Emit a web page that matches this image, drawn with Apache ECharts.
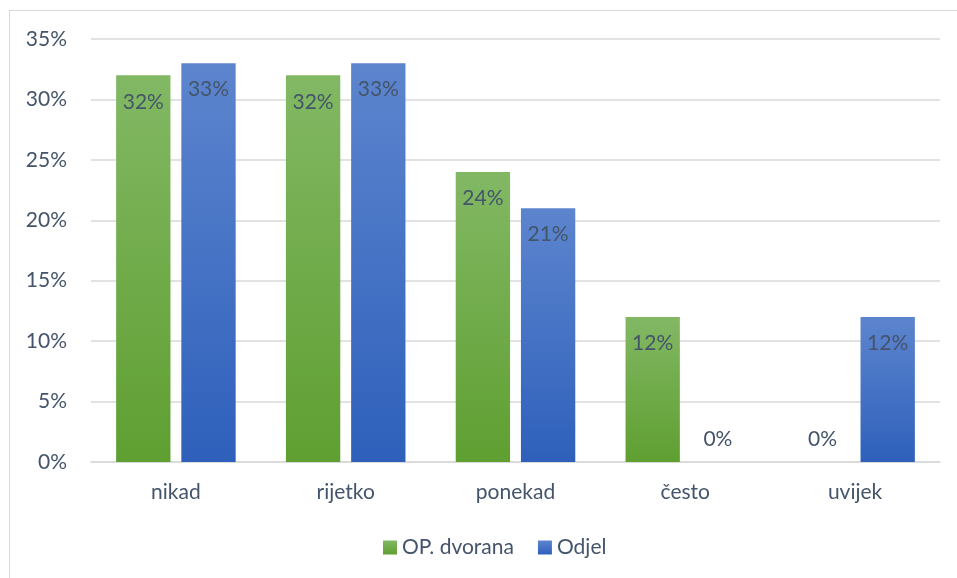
<!DOCTYPE html>
<html>
<head>
<meta charset="utf-8">
<script src="https://cdn.jsdelivr.net/npm/echarts@6/dist/echarts.min.js"></script>
<style>
html,body{margin:0;padding:0;background:#fff;overflow:hidden;}
#frame{position:absolute;left:9px;top:10px;width:960px;height:580px;border:1px solid #d9d9d9;box-sizing:border-box;}
#c{position:absolute;left:0;top:0;width:957px;height:578px;}
</style>
</head>
<body>
<div id="frame"></div>
<div id="c"></div>
<script>
const categories = ['nikad', 'rijetko', 'ponekad', 'često', 'uvijek'];
const seriesNames = ['OP. dvorana', 'Odjel'];
const opDvorana = [32, 32, 24, 12, 0];
const odjel = [33, 33, 21, 0, 12];
const yTicks = [0, 5, 10, 15, 20, 25, 30, 35];

const txt = '#44546a';
const font = 'Lato, "Open Sans", sans-serif';
const fs = 21;

function grad(top, bottom) {
  return new echarts.graphic.LinearGradient(0, 0, 0, 1, [
    {offset: 0, color: top}, {offset: 1, color: bottom}
  ]);
}
function items(arr) {
  return arr.map(v => v === 0
    ? {value: v, label: {position: 'top', distance: 12}}
    : {value: v});
}
const labelCfg = {
  show: true, position: 'insideTop', distance: 16,
  color: txt, fontSize: fs, fontFamily: font,
  formatter: p => p.value + '%'
};

const chart = echarts.init(document.getElementById('c'));
chart.setOption({
  animation: false,
  grid: {left: 91, right: 17, top: 39, bottom: 116},
  legend: {
    bottom: 15, left: 378,
    itemWidth: 14, itemHeight: 14, itemGap: 24,
    icon: 'rect',
    textStyle: {color: txt, fontSize: fs, fontFamily: font},
    data: seriesNames
  },
  xAxis: {
    type: 'category', data: categories,
    axisLine: {lineStyle: {color: '#d9d9d9', width: 1.5}},
    axisTick: {show: false},
    axisLabel: {color: txt, fontSize: fs, fontFamily: font, margin: 20}
  },
  yAxis: {
    type: 'value', min: yTicks[0], max: yTicks[yTicks.length - 1], interval: 5,
    axisLine: {show: false}, axisTick: {show: false},
    splitLine: {lineStyle: {color: '#d9d9d9', width: 1.5}},
    axisLabel: {color: txt, fontSize: fs, fontFamily: font, margin: 24, formatter: v => v + '%'}
  },
  series: [
    {
      name: seriesNames[0], type: 'bar', data: items(opDvorana),
      barWidth: '32%', barGap: '20%',
      itemStyle: {color: grad('#82b864', '#5f9f31')},
      label: labelCfg
    },
    {
      name: seriesNames[1], type: 'bar', data: items(odjel),
      barWidth: '32%', barGap: '20%',
      itemStyle: {color: grad('#5d85ce', '#2e60bb')},
      label: labelCfg
    }
  ]
});
</script>
</body>
</html>
